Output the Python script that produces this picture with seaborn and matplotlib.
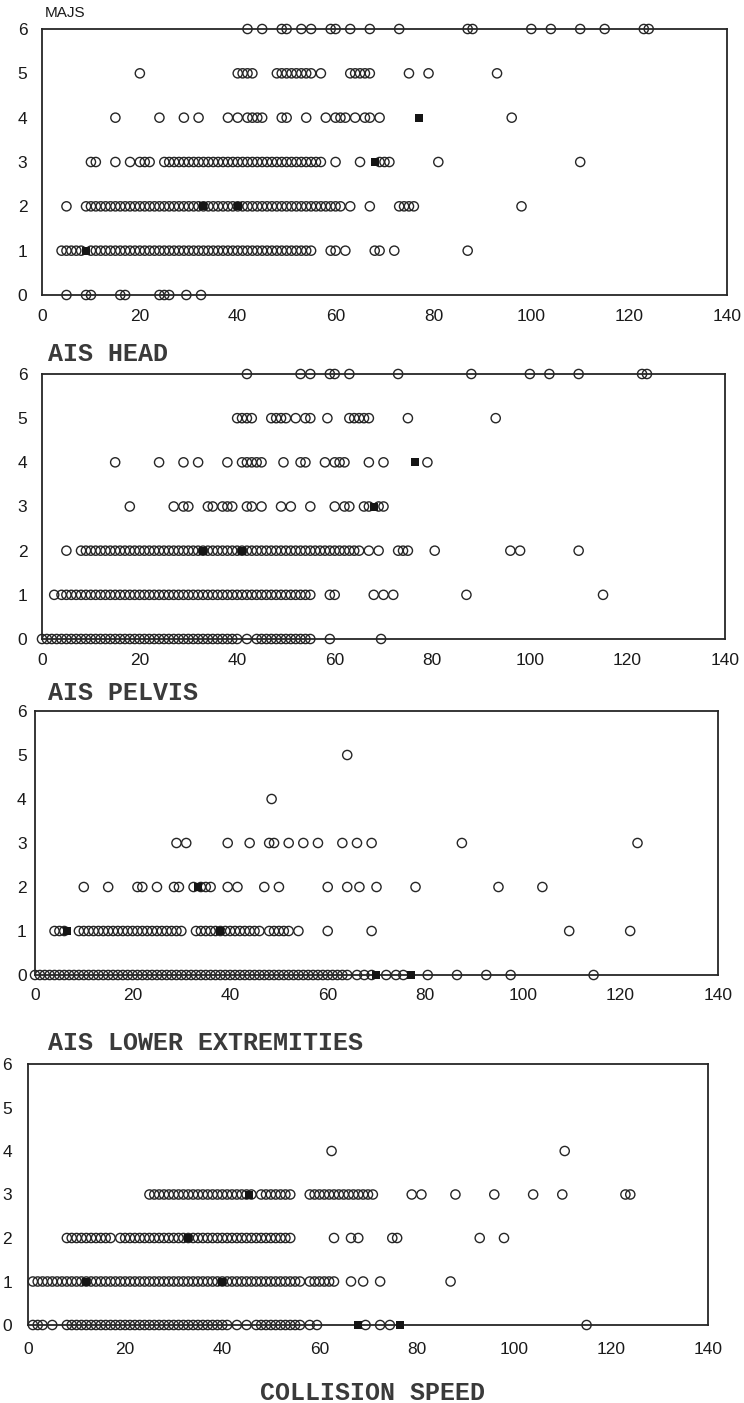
import matplotlib
matplotlib.use('Agg')
import matplotlib.pyplot as plt
import seaborn as sns
import pandas as pd

# Collision speed of each case, grouped by injury level

# MAJS
majs_6 = [42, 45, 49, 50, 53, 55, 59, 60, 63, 67, 73, 87, 88, 100, 104, 110, 115, 123, 124]
majs_5 = [20, 40, 41, 42, 43, 48, 49, 50, 51, 52, 53, 54, 55, 57, 63, 64, 65, 66, 67, 75, 79, 93]
majs_4 = [15, 24, 29, 32, 38, 40, 42, 43, 44, 45, 49, 50, 54, 58, 60, 61, 62, 64, 66, 67, 69, 96]
majs_3 = [10, 11, 15, 18, 20, 21, 22, 25, 26, 27, 28, 29, 30, 31, 32, 33, 34, 35, 36, 37, 38, 39,
          40, 41, 42, 43, 44, 45, 46, 47, 48, 49, 50, 51, 52, 53, 54, 55, 56, 57, 60, 65, 69, 70,
          71, 81, 110]
majs_2 = [5, 9, 10, 11, 12, 13, 14, 15, 16, 17, 18, 19, 20, 21, 22, 23, 24, 25, 26, 27, 28, 29, 30,
          31, 32, 33, 34, 35, 36, 37, 38, 39, 40, 41, 42, 43, 44, 45, 46, 47, 48, 49, 50, 51, 52,
          53, 54, 55, 56, 57, 58, 59, 60, 61, 63, 67, 73, 74, 75, 76, 98]
majs_1 = [4, 5, 6, 7, 8, 10, 11, 12, 13, 14, 15, 16, 17, 18, 19, 20, 21, 22, 23, 24, 25, 26, 27,
          28, 29, 30, 31, 32, 33, 34, 35, 36, 37, 38, 39, 40, 41, 42, 43, 44, 45, 46, 47, 48, 49,
          50, 51, 52, 53, 54, 55, 59, 60, 62, 68, 69, 72, 87]
majs_0 = [5, 9, 10, 16, 17, 24, 25, 26, 29.5, 32.5]
majs_filled_x = [77, 68, 33, 40, 9]
majs_filled_y = [4, 3, 2, 2, 1]

# AIS HEAD
head_6 = [42, 53, 55, 59, 60, 63, 73, 88, 100, 104, 110, 123, 124]
head_5 = [40, 41, 42, 43, 47, 48, 49, 50, 52, 54, 55, 58.5, 63, 64, 65, 66, 67, 75, 93]
head_4 = [15, 24, 29, 32, 38, 41, 42, 43, 44, 45, 49.5, 53, 54, 58, 60, 61, 62, 67, 70, 79]
head_3 = [18, 27, 29, 30, 34, 35, 37, 38, 39, 42, 43, 45, 49, 51, 55, 60, 62, 63, 66, 67, 69, 70]
head_2 = [5, 8, 9, 10, 11, 12, 13, 14, 15, 16, 17, 18, 19, 20, 21, 22, 23, 24, 25, 26, 27, 28, 29,
          30, 31, 32, 33, 34, 35, 36, 37, 38, 39, 40, 41, 42, 43, 44, 45, 46, 47, 48, 49, 50, 51,
          52, 53, 54, 55, 56, 57, 58, 59, 60, 61, 62, 63, 64, 65, 67, 69, 73, 74, 75, 80.5, 96,
          98, 110]
head_1 = [2.5, 4, 5, 6, 7, 8, 9, 10, 11, 12, 13, 14, 15, 16, 17, 18, 19, 20, 21, 22, 23, 24, 25,
          26, 27, 28, 29, 30, 31, 32, 33, 34, 35, 36, 37, 38, 39, 40, 41, 42, 43, 44, 45, 46, 47,
          48, 49, 50, 51, 52, 53, 54, 55, 59, 60, 68, 70, 72, 87, 115]
head_0 = [0, 1, 2, 3, 4, 5, 6, 7, 8, 9, 10, 11, 12, 13, 14, 15, 16, 17, 18, 19, 20, 21, 22, 23,
          24, 25, 26, 27, 28, 29, 30, 31, 32, 33, 34, 35, 36, 37, 38, 39, 40, 42, 44, 45, 46, 47,
          48, 49, 50, 51, 52, 53, 54, 55, 59, 69.5]
head_filled_x = [76.5, 68, 33, 41]
head_filled_y = [4, 3, 2, 2]

# AIS PELVIS
pelvis_5 = [64]
pelvis_4 = [48.5]
pelvis_3 = [29, 31, 39.5, 44, 48, 49, 52, 55, 58, 63, 66, 69, 87.5, 123.5]
pelvis_2 = [10, 15, 21, 22, 25, 28.5, 29.5, 32.5, 34, 35, 36, 39.5, 41.5, 47, 50, 60, 64, 66.5,
            70, 78, 95, 104]
pelvis_1 = [4, 5, 6, 9, 10, 11, 12, 13, 14, 15, 16, 17, 18, 19, 20, 21, 22, 23, 24, 25, 26, 27,
            28, 29, 30, 33, 34, 35, 36, 37, 38, 39, 40, 41, 42, 43, 44, 45, 46, 48, 49, 50, 51,
            52, 54, 60, 69, 109.5, 122]
pelvis_0 = [0, 1, 2, 3, 4, 5, 6, 7, 8, 9, 10, 11, 12, 13, 14, 15, 16, 17, 18, 19, 20, 21, 22, 23,
            24, 25, 26, 27, 28, 29, 30, 31, 32, 33, 34, 35, 36, 37, 38, 39, 40, 41, 42, 43, 44,
            45, 46, 47, 48, 49, 50, 51, 52, 53, 54, 55, 56, 57, 58, 59, 60, 61, 62, 63, 64, 66,
            67.5, 69, 72, 74, 75.5, 80.5, 86.5, 92.5, 97.5, 114.5]
pelvis_filled_x = [33.5, 6.5, 38, 70, 77]
pelvis_filled_y = [2, 1, 1, 0, 0]

# AIS LOWER EXTREMITIES
lower_4 = [62.5, 110.5]
lower_3 = [25, 26, 27, 28, 29, 30, 31, 32, 33, 34, 35, 36, 37, 38, 39, 40, 41, 42, 43, 44, 45,
           46, 48, 49, 50, 51, 52, 53, 54, 58, 59, 60, 61, 62, 63, 64, 65, 66, 67, 68, 69, 70,
           71, 79, 81, 88, 96, 104, 110, 123, 124]
lower_2 = [8, 9, 10, 11, 12, 13, 14, 15, 16, 17, 19, 20, 21, 22, 23, 24, 25, 26, 27, 28, 29, 30,
           31, 32, 33, 34, 35, 36, 37, 38, 39, 40, 41, 42, 43, 44, 45, 46, 47, 48, 49, 50, 51,
           52, 53, 54, 63, 66.5, 68, 75, 76, 93, 98]
lower_1 = [1, 2, 3, 4, 5, 6, 7, 8, 9, 10, 11, 12, 13, 14, 15, 16, 17, 18, 19, 20, 21, 22, 23,
           24, 25, 26, 27, 28, 29, 30, 31, 32, 33, 34, 35, 36, 37, 38, 39, 40, 41, 42, 43, 44,
           45, 46, 47, 48, 49, 50, 51, 52, 53, 54, 55, 56, 58, 59, 60, 61, 62, 63, 66.5, 69,
           72.5, 87]
lower_0 = [1, 2, 3, 5, 8, 9, 10, 11, 12, 13, 14, 15, 16, 17, 18, 19, 20, 21, 22, 23, 24, 25, 26,
           27, 28, 29, 30, 31, 32, 33, 34, 35, 36, 37, 38, 39, 40, 41, 43, 45, 47, 48, 49, 50,
           51, 52, 53, 54, 55, 56, 58, 59.5, 69.5, 72.5, 74.5, 115]
lower_filled_x = [45.5, 33, 12, 40, 68, 76.5]
lower_filled_y = [3, 2, 1, 1, 0, 0]

x_ticks = [0, 20, 40, 60, 80, 100, 120, 140]
y_ticks = [0, 1, 2, 3, 4, 5, 6]


def to_frame(levels):
    rows = []
    for level, speeds in levels:
        for s in speeds:
            rows.append({'speed': s, 'level': level})
    return pd.DataFrame(rows)


panels = [
    {'title': 'MAJS',
     'data': to_frame([(6, majs_6), (5, majs_5), (4, majs_4), (3, majs_3), (2, majs_2),
                       (1, majs_1), (0, majs_0)]),
     'filled': (majs_filled_x, majs_filled_y),
     'rect': [42 / 744, 1 - 295 / 1403, 685 / 744, 266 / 1403],
     'title_y': 13, 'ypad': 10.5, 'xpad': 10},
    {'title': 'AIS HEAD',
     'data': to_frame([(6, head_6), (5, head_5), (4, head_4), (3, head_3), (2, head_2),
                       (1, head_1), (0, head_0)]),
     'filled': (head_filled_x, head_filled_y),
     'rect': [42 / 744, 1 - 639 / 1403, 683 / 744, 265 / 1403],
     'title_y': 354, 'ypad': 10.5, 'xpad': 10},
    {'title': 'AIS PELVIS',
     'data': to_frame([(5, pelvis_5), (4, pelvis_4), (3, pelvis_3), (2, pelvis_2),
                       (1, pelvis_1), (0, pelvis_0)]),
     'filled': (pelvis_filled_x, pelvis_filled_y),
     'rect': [35 / 744, 1 - 975 / 1403, 683 / 744, 264 / 1403],
     'title_y': 693, 'ypad': 6, 'xpad': 9.5},
    {'title': 'AIS LOWER EXTREMITIES',
     'data': to_frame([(4, lower_4), (3, lower_3), (2, lower_2), (1, lower_1), (0, lower_0)]),
     'filled': (lower_filled_x, lower_filled_y),
     'rect': [28 / 744, 1 - 1325 / 1403, 680 / 744, 261 / 1403],
     'title_y': 1043, 'ypad': 11.5, 'xpad': 12},
]

sns.set_style('white')
plt.rcParams['font.family'] = ['Liberation Sans', 'DejaVu Sans']

fig = plt.figure(figsize=(7.44, 14.03), dpi=100)
ink = '#262626'

for p in panels:
    ax = fig.add_axes(p['rect'])
    sns.scatterplot(data=p['data'], x='speed', y='level', ax=ax, marker='o', s=44,
                    facecolors='none', edgecolors=ink, linewidth=1.0, clip_on=False,
                    legend=False, zorder=3)
    fx, fy = p['filled']
    sns.scatterplot(x=fx, y=fy, ax=ax, marker='s', s=26, color='#151515',
                    linewidth=0, clip_on=False, legend=False, zorder=4)
    ax.set_xlim(0, 140)
    ax.set_ylim(0, 6)
    ax.set_xticks(x_ticks)
    ax.set_yticks(y_ticks)
    ax.set_xlabel('')
    ax.set_ylabel('')
    ax.tick_params(axis='both', length=0, labelsize=12.5, colors='#1a1a1a')
    ax.tick_params(axis='y', pad=p['ypad'])
    ax.tick_params(axis='x', pad=p['xpad'])
    for sp in ax.spines.values():
        sp.set_visible(True)
        sp.set_color(ink)
        sp.set_linewidth(1.3)

    if p['title'] == 'MAJS':
        fig.text(45 / 744, 1 - p['title_y'] / 1403, p['title'], fontsize=11,
                 ha='left', va='center', color='#1a1a1a')
    else:
        fig.text(48 / 744, 1 - p['title_y'] / 1403, p['title'], fontsize=18,
                 family='Liberation Mono', fontweight='bold', ha='left', va='center',
                 color='#3a3a3a')

fig.text(372 / 744, 1 - 1393 / 1403, 'COLLISION SPEED', fontsize=18,
         family='Liberation Mono', fontweight='bold', ha='center', va='center',
         color='#3a3a3a')

fig.savefig('out.png', dpi=100, facecolor='white')
